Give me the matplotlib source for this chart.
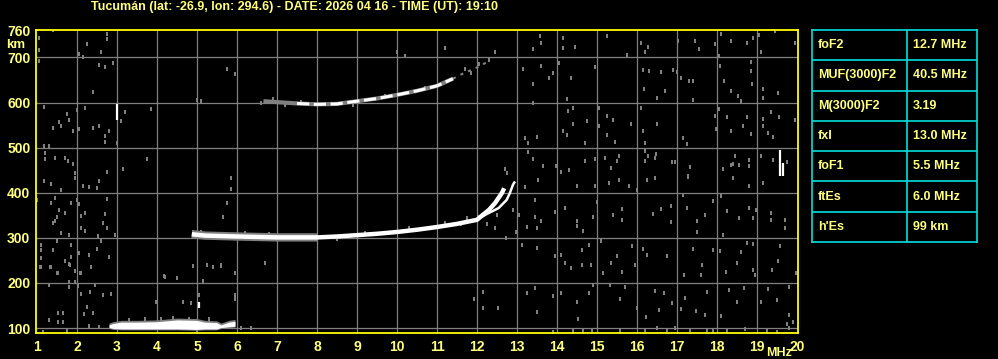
import matplotlib
matplotlib.use("Agg")
import matplotlib.pyplot as plt
import numpy as np

# title / table text
title = "Tucumán (lat: -26.9, lon: 294.6) - DATE: 2026 04 16 - TIME (UT): 19:10"
param_names = ["foF2", "MUF(3000)F2", "M(3000)F2", "fxI", "foF1", "ftEs", "h'Es"]
param_values = ["12.7 MHz", "40.5 MHz", "3.19", "13.0 MHz", "5.5 MHz", "6.0 MHz", "99 km"]

freq_ticks = list(range(1, 21))
km_ticks = [100, 200, 300, 400, 500, 600, 700, 760]

# F2 ordinary trace (MHz, km)
f2o_freq = [4.87, 5.2, 5.6, 6.0, 6.5, 7.0, 7.5, 8.0, 8.5, 9.0, 9.5, 10.0, 10.5,
            11.0, 11.5, 12.0, 12.16, 12.3, 12.45, 12.62, 12.68]
f2o_km = [308, 305, 304, 303, 302, 301, 301, 301, 303, 306, 309, 313, 318,
          324, 331, 340, 352, 362, 377, 399, 410]
# F2 extraordinary branch
f2x_freq = [12.1, 12.29, 12.54, 12.74, 12.82, 12.9, 12.95]
f2x_km = [346, 355, 366, 384, 399, 418, 425]
# second hop F2 trace
f2m_freq = [6.66, 7.0, 7.5, 8.0, 8.5, 9.0, 9.5, 10.0, 10.5, 11.0, 11.4]
f2m_km = [603, 601, 598, 596, 597, 603, 609, 617, 626, 637, 653]
f2m_tail_freq = [11.4, 11.6, 11.8, 12.0, 12.24]
f2m_tail_km = [653, 662, 670, 678, 689]

# sporadic E band (MHz, lower km, upper km)
es_freq = [2.8, 2.9, 3.1, 3.5, 4.0, 4.24, 4.5, 4.99, 5.2, 5.49, 5.6, 5.8, 5.95]
es_low = [101, 99, 98, 98, 98, 98, 98, 97, 98, 98, 101, 103, 104]
es_high = [107, 110, 113, 113, 114, 116, 118, 117, 113, 112, 107, 113, 115]

# isolated echoes (MHz, km from, km to)
spikes = [(3.0, 561, 596), (19.58, 437, 494), (19.64, 437, 467), (5.06, 145, 158)]

noise_pts = [
    (13.58, 748), (13.6, 733), (13.39, 719), (14.16, 744), (14.16, 721), (14.45, 724),
    (15.24, 747), (16.09, 733), (16.28, 724), (16.2, 711), (17.03, 737), (17.45, 736),
    (17.55, 719), (17.95, 730), (18.09, 752), (18.35, 737), (18.74, 733), (18.91, 744),
    (19.05, 750), (19.45, 758), (19.95, 733), (19.09, 711), (18.06, 704), (13.6, 680),
    (13.89, 665), (13.81, 655), (13.41, 642), (14.06, 687), (14.34, 655), (14.95, 679),
    (15.74, 706), (16.14, 672), (16.29, 669), (16.59, 667), (16.89, 672), (16.99, 667),
    (17.09, 655), (17.31, 647), (17.41, 647), (16.49, 610), (16.18, 631), (16.7, 626),
    (17.39, 605), (18.08, 682), (18.18, 647), (18.35, 626), (18.53, 615), (18.6, 604),
    (18.84, 689), (18.84, 670), (18.88, 641), (19.14, 630), (19.14, 611), (19.53, 622),
    (13.14, 674), (13.39, 600), (14.24, 607), (14.41, 589), (14.28, 581), (14.39, 553),
    (14.74, 558), (14.14, 536), (14.24, 527), (13.49, 524), (13.2, 522), (13.28, 511),
    (14.7, 511), (15.05, 589), (15.24, 570), (15.39, 562), (15.04, 549), (15.26, 527),
    (15.45, 513), (15.84, 553), (16.09, 589), (16.14, 538), (16.2, 511), (16.49, 552),
    (17.14, 522), (17.24, 509), (17.95, 570), (18.06, 585), (17.98, 541), (18.26, 567),
    (18.35, 536), (18.64, 548), (18.74, 567), (18.84, 531), (19.14, 563), (19.14, 548),
    (19.28, 533), (19.34, 578), (19.56, 567), (19.95, 561), (19.39, 524), (13.28, 491),
    (13.39, 474), (13.64, 459), (13.98, 459), (14.09, 447), (14.31, 450), (14.7, 470),
    (14.95, 474), (15.2, 478), (15.34, 454), (15.49, 470), (15.55, 481), (16.2, 493),
    (16.28, 481), (16.45, 476), (16.47, 487), (16.2, 470), (16.87, 469), (16.95, 469),
    (17.33, 456), (17.28, 437), (18.45, 481), (18.41, 464), (18.35, 461), (18.56, 461),
    (18.81, 472), (18.81, 459), (18.14, 452), (19.09, 481), (19.39, 472), (19.74, 469),
    (13.2, 412), (13.53, 429), (14.49, 414), (14.95, 416), (15.31, 421), (15.56, 429),
    (15.81, 416), (16.24, 429), (16.45, 433), (17.28, 436), (18.39, 433), (18.81, 414),
    (19.16, 421), (13.45, 384), (13.45, 347), (13.59, 338), (13.24, 325), (13.49, 321),
    (13.95, 357), (14.2, 366), (14.51, 338), (14.51, 327), (14.64, 316), (14.89, 347),
    (14.99, 379), (15.39, 351), (15.62, 364), (15.62, 340), (16.01, 407), (16.39, 353),
    (16.6, 364), (16.85, 370), (16.85, 336), (17.14, 394), (17.24, 367), (17.49, 338),
    (17.49, 313), (17.7, 351), (17.89, 381), (18.1, 392), (18.14, 307), (18.26, 359),
    (18.56, 345), (18.81, 367), (18.91, 345), (18.98, 362), (19.34, 355), (19.34, 340),
    (19.7, 340), (19.7, 321), (13.12, 284), (13.49, 277), (13.95, 259), (14.1, 262),
    (14.2, 244), (14.34, 233), (14.62, 273), (14.62, 240), (14.81, 284), (14.85, 240),
    (15.09, 292), (15.14, 221), (15.34, 244), (15.51, 259), (15.62, 225), (15.87, 281),
    (15.95, 240), (16.16, 276), (16.24, 262), (16.74, 259), (17.17, 218), (17.41, 276),
    (17.62, 240), (17.6, 218), (17.89, 273), (18.08, 271), (18.23, 225), (18.49, 244),
    (18.59, 268), (18.74, 288), (18.89, 286), (18.91, 229), (18.95, 218), (19.37, 229),
    (19.53, 249), (19.58, 281), (19.98, 221), (13.24, 177), (13.45, 188), (13.51, 136),
    (13.89, 172), (14.1, 177), (14.49, 157), (14.53, 120), (14.81, 177), (14.89, 196),
    (15.33, 196), (15.58, 164), (15.7, 192), (16.01, 144), (16.23, 125), (16.45, 182),
    (16.56, 140), (16.68, 177), (16.87, 155), (17.19, 166), (17.09, 142), (17.48, 138),
    (17.7, 129), (17.74, 179), (18.1, 127), (18.31, 184), (18.49, 157), (18.68, 188),
    (19.1, 157), (19.28, 187), (19.49, 162), (19.81, 192), (19.81, 129), (19.91, 114),
    (19.74, 110), (13.91, 92), (14.66, 93), (14.87, 96), (15.58, 93), (16.49, 99),
    (16.74, 96), (16.95, 99), (17.33, 96), (17.74, 96), (18.24, 93), (18.7, 98),
    (19.24, 93), (19.49, 92), (14.4, 93), (16.2, 95), (17.9, 94), (19.8, 100),
    (1.39, 761), (1.04, 743), (1.04, 716), (1.06, 693), (2.74, 752), (2.74, 741),
    (2.6, 713), (2.24, 730), (2.04, 707), (2.14, 702), (2.54, 683), (2.7, 678),
    (2.89, 687), (2.39, 624), (5.74, 674), (5.96, 663), (1.18, 591), (1.74, 574),
    (1.99, 583), (2.2, 589), (1.56, 556), (1.6, 547), (1.79, 561), (1.39, 544),
    (1.89, 536), (2.04, 541), (2.39, 544), (2.54, 548), (2.7, 526), (2.79, 536),
    (2.7, 513), (2.99, 511), (3.1, 558), (3.85, 585), (1.18, 504), (1.31, 504),
    (1.2, 489), (1.2, 474), (1.45, 478), (1.71, 478), (1.77, 470), (1.91, 464),
    (1.95, 444), (1.95, 433), (2.74, 447), (3.14, 452), (3.75, 474), (1.18, 426),
    (1.35, 419), (1.6, 405), (2.14, 415), (2.29, 413), (2.5, 410), (2.56, 425),
    (5.85, 433), (5.85, 409), (1.0, 385), (1.45, 389), (1.35, 378), (1.85, 378),
    (1.99, 385), (2.04, 374), (1.56, 361), (1.71, 356), (1.5, 346), (1.45, 337),
    (1.39, 333), (2.1, 348), (2.21, 356), (2.1, 321), (2.21, 316), (2.7, 352),
    (2.64, 333), (2.74, 387), (2.74, 321), (1.6, 311), (1.79, 307), (2.52, 304),
    (2.95, 306), (5.74, 378), (5.64, 346), (1.1, 285), (1.1, 274), (1.39, 274),
    (1.5, 293), (1.85, 285), (2.04, 267), (2.31, 263), (2.5, 276), (2.6, 293),
    (2.81, 257), (1.1, 256), (1.1, 235), (1.35, 235), (1.52, 222), (1.71, 248),
    (1.85, 257), (1.81, 241), (2.1, 222), (2.35, 235), (1.96, 226), (4.89, 237),
    (5.24, 239), (5.39, 236), (5.6, 239), (4.18, 215), (4.49, 210), (5.14, 205),
    (1.31, 196), (1.81, 192), (2.02, 194), (2.46, 196), (1.08, 236), (1.33, 236),
    (1.83, 240), (2.34, 236), (2.08, 223), (1.49, 223), (1.81, 201), (1.95, 203),
    (1.31, 195), (2.45, 195), (2.09, 175), (2.66, 173), (2.85, 175), (2.33, 181),
    (2.26, 147), (1.53, 134), (1.66, 134), (2.18, 132), (2.41, 134), (1.31, 118),
    (1.53, 114), (1.66, 114), (1.74, 94), (1.14, 92), (4.2, 214), (5.59, 238),
    (5.95, 223), (4.64, 158), (4.84, 155), (5.06, 173), (5.95, 173), (5.95, 164),
    (6.7, 245), (3.98, 158), (12.14, 181), (12.14, 145), (11.93, 164), (12.53, 145),
    (2.3, 104), (2.55, 103), (3.3, 118), (3.7, 119), (4.1, 120), (4.4, 122),
    (4.8, 121), (5.3, 119), (5.7, 103), (6.1, 100), (6.35, 99), (5.0, 93),
    (12.74, 444), (12.7, 452), (12.45, 322), (12.9, 362), (13.05, 350), (12.98, 313),
    (12.72, 300), (12.25, 330), (4.9, 314), (5.1, 312), (5.5, 309), (6.2, 311),
    (6.8, 309), (7.3, 297), (8.5, 298), (9.2, 311), (10.3, 322), (11.2, 334),
    (11.6, 330), (11.75, 344), (12.02, 346), (12.5, 350),
    (6.6, 598), (6.9, 608), (7.2, 595), (7.6, 602), (8.9, 594), (9.7, 614),
    (10.7, 633), (11.7, 675), (11.85, 665), (12.05, 685), (12.3, 695), (12.45, 711),
    (11.2, 720), (10.2, 704), (10.0, 712), (3.2, 578), (5.1, 604), (5.0, 606),
]

fig = plt.figure(figsize=(9.98, 3.59), dpi=100, facecolor="black")
txt_font = ["Liberation Sans", "DejaVu Sans"]
yel = "#ffff80"
grey = "#808080"

ax = fig.add_axes([36 / 998, 26 / 359, 762 / 998, 303.5 / 359])
ax.set_facecolor("black")
ax.set_xlim(0.975, 20.025)
ax.set_ylim(89, 762)

for f in freq_ticks[1:-1]:
    ax.axvline(f, color=grey, lw=0.9, zorder=1)
for k in km_ticks[:-1]:
    ax.axhline(k, color=grey, lw=0.9, zorder=1)

# noise (small vertical grey blips)
blip = [(-0.8, -1.2), (0.8, -1.2), (0.8, 1.2), (-0.8, 1.2)]
nz = np.array(noise_pts)
ax.scatter(nz[:, 0], nz[:, 1], marker=blip, s=9, color=grey, linewidths=0, zorder=2)

# sporadic E
ax.fill_between(es_freq, np.array(es_low) - 2, np.array(es_high) + 4, color=grey, lw=0, zorder=2)
ax.fill_between(es_freq, es_low, es_high, color="white", lw=0, zorder=3)

# F2 traces
ax.plot(f2o_freq[:8], f2o_km[:8], color=grey, lw=6, solid_capstyle="butt", zorder=2)
ax.plot(f2o_freq, f2o_km, color="white", lw=3.2, solid_capstyle="butt", zorder=3)
ax.plot(f2x_freq, f2x_km, color="white", lw=1.8, solid_capstyle="butt", zorder=3)
ax.plot(f2m_freq, f2m_km, color=grey, lw=3.0, solid_capstyle="butt", zorder=2)
ax.plot(f2m_freq[2:], f2m_km[2:], color="white", lw=2.2, dashes=(4, 1.5), zorder=3)
ax.plot(f2m_tail_freq, f2m_tail_km, color=grey, lw=1.5, dashes=(1.5, 2.5), zorder=2)

for f, k0, k1 in spikes:
    ax.plot([f, f], [k0, k1], color="white", lw=1.6, solid_capstyle="butt", zorder=3)

for s in ax.spines.values():
    s.set_color("#ffff00")
    s.set_linewidth(1.3)
ax.set_xticks(freq_ticks)
ax.set_yticks(km_ticks)
ax.tick_params(length=0, colors=yel, labelsize=10, pad=4)
ax.tick_params(axis="x", pad=5)
for lab in ax.get_xticklabels() + ax.get_yticklabels():
    lab.set_family(txt_font)
    lab.set_fontweight("bold")

fig.text(6 / 998, 1 - 45 / 359, "km", color=yel, fontsize=9.5, fontweight="bold",
         family=txt_font, va="center", ha="left")
fig.text(779 / 998, 1 - 353 / 359, "MHz", color=yel, fontsize=9, fontweight="bold",
         family=txt_font, va="center", ha="center")
fig.text(294.5 / 998, 1 - 7 / 359, title, color=yel, fontsize=9, fontweight="bold",
         family=txt_font, va="center", ha="center")

# parameter table
tab = fig.add_axes([812 / 998, 1 - 242 / 359, 165 / 998, 212 / 359])
tab.set_facecolor("black")
tab.set_xlim(0, 1)
tab.set_ylim(len(param_names), 0)
tab.set_xticks([])
tab.set_yticks([])
for s in tab.spines.values():
    s.set_color("#00e0e0")
    s.set_linewidth(1.2)
for i in range(1, len(param_names)):
    tab.axhline(i, color="#00e0e0", lw=1.2)
tab.axvline(0.576, color="#00e0e0", lw=1.2)
for i, (n, v) in enumerate(zip(param_names, param_values)):
    tab.text(0.036, i + 0.5, n, color=yel, fontsize=9, fontweight="bold", family=txt_font, va="center")
    tab.text(0.612, i + 0.5, v, color=yel, fontsize=9, fontweight="bold", family=txt_font, va="center")

fig.savefig("out.png", dpi=100, facecolor="black")
